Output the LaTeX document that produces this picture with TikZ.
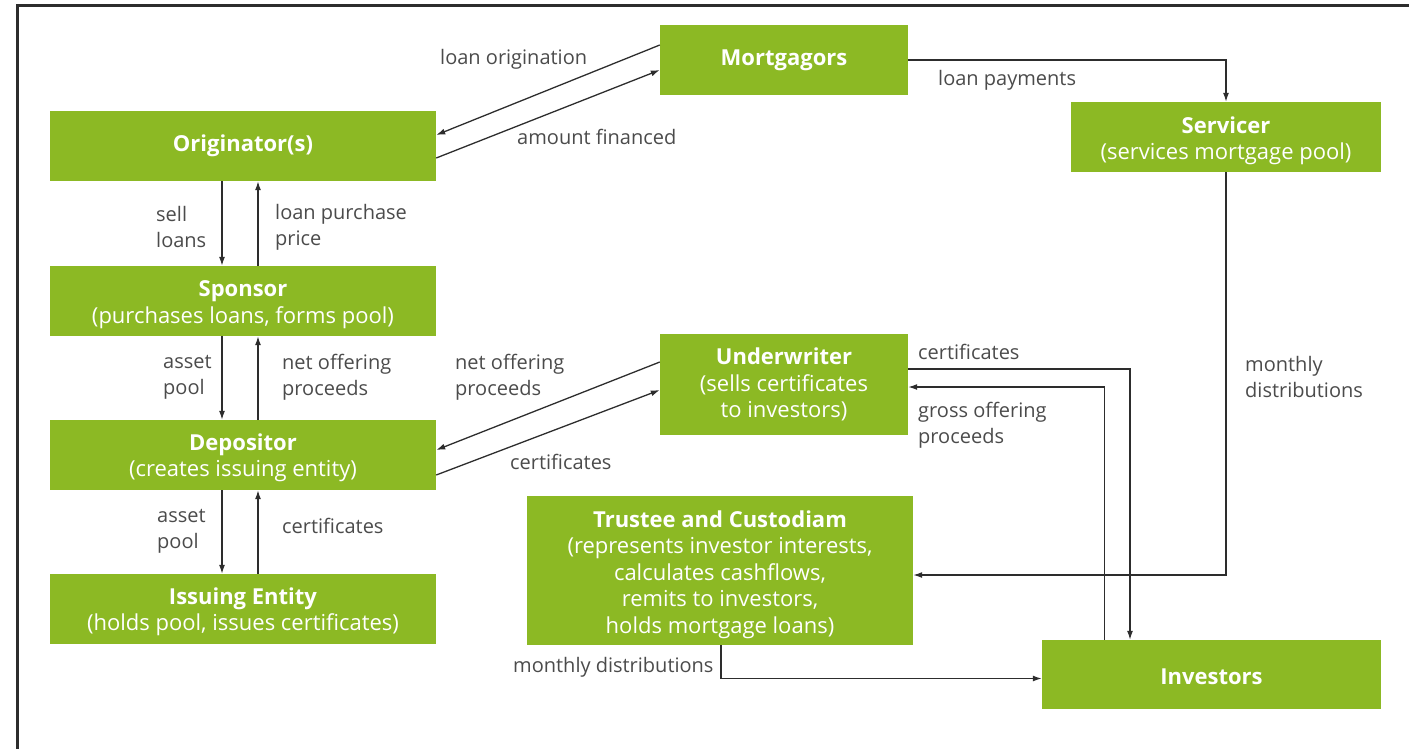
\documentclass[tikz,border=0pt]{standalone}
\usepackage{fontspec}
\setmainfont{Open Sans}
\usetikzlibrary{arrows.meta}
\usetikzlibrary{positioning}
\definecolor{boxgreen}{RGB}{140,185,36}
\definecolor{linegray}{RGB}{45,45,45}
\definecolor{textgray}{RGB}{75,75,75}
\tikzstyle{box}=[rectangle,fill=boxgreen,inner sep=0pt]
\tikzstyle{boxtext}=[text=white,align=center,inner sep=0pt,font=\fontsize{22}{26.5}\selectfont]
\tikzstyle{lbl}=[text=textgray,align=left,inner sep=0pt,anchor=west,font=\fontsize{20}{26}\selectfont]
\tikzstyle{edge} = [draw,line width=1.3pt,color=linegray,-{Latex[length=9pt,width=6pt]}]

\begin{document}
\begin{tikzpicture}[x=1pt,y={(0,-1pt)}]

  \useasboundingbox (0,0) rectangle (1409,748);
  \draw[line width=3pt, color=linegray] (17,760) -- (17,5) -- (1420,5);

   \foreach \x/\y/\w/\h/\dy/\name/\txt in {784/60/248/70/0/mort/{\textbf{Mortgagors}},
        1226/137/310/70/-4/serv/{\textbf{Servicer}\\(services mortgage pool)},
        243/146/386/70/0/orig/{\textbf{Originator(s)}},
        243/301/386/70/-3.5/spon/{\textbf{Sponsor}\\(purchases loans, forms pool)},
        243/455/386/70/-3/depo/{\textbf{Depositor}\\(creates issuing entity)},
        243/609/386/70/-3/issu/{\textbf{Issuing Entity}\\(holds pool, issues certificates)},
        784/384.5/248/101/0/undw/{\textbf{Underwriter}\\(sells certificates\\to investors)},
        720/570.5/386/149/-4/trus/{\textbf{Trustee and Custodiam}\\(represents investor interests,\\calculates cashflows,\\remits to investors,\\holds mortgage loans)},
        1211.5/674.5/339/69/-2/inv/{\textbf{Investors}}}
          \node[box, minimum width=\w pt, minimum height=\h pt,
                label={[boxtext,yshift=\dy pt]center:\txt}] (\name) at (\x,\y) {};

   \foreach \x/\y/\name/\txt in {440/59/lorig/{loan origination},
        517/137/amtfin/{amount financed},
        938/80/lpay/{loan payments},
        156/227/sell/{sell\\loans},
        275/227/lpp/{loan purchase\\price},
        163/377/apool1/{asset\\pool},
        282/377/netp1/{net offering\\proceeds},
        455/377/netp2/{net offering\\proceeds},
        510/462/cert1/{certificates},
        157/531/apool2/{asset\\pool},
        282/526/cert2/{certificates},
        918/352/cert3/{certificates},
        918/425/gross/{gross offering\\proceeds},
        1245/377/mdist1/{monthly\\distributions},
        513/667/mdist2/{monthly distributions}}
          \node[lbl] (\name) at (\x,\y) {\txt};

  % stacked boxes on the left
  \foreach \src/\dst in {orig/spon, spon/depo, depo/issu}
  {
         \draw[edge] ([xshift=-21pt]\src.south) -- ([xshift=-21pt]\dst.north);
         \draw[edge] ([xshift=15pt]\dst.north) -- ([xshift=15pt]\src.south);
  }

  % slanted pairs
  \draw[edge] ([yshift=15pt]mort.west) -- ([yshift=11pt]orig.east);
  \draw[edge] ([yshift=-12pt]orig.east) -- ([yshift=-10pt]mort.west);
  \draw[edge] ([yshift=22.5pt]undw.west) -- ([yshift=5pt]depo.east);
  \draw[edge] ([yshift=-20pt]depo.east) -- ([yshift=-5.5pt]undw.west);

  % elbows
  \draw[edge] (mort.east) -| (serv.north);
  \draw[edge] (serv.south) |- ([yshift=-4.5pt]trus.east);
  \draw[edge] ([yshift=15.5pt]undw.east) -| ([xshift=-81.5pt]inv.north);
  \draw[edge] ([xshift=-107pt]inv.north) |- ([yshift=-2.5pt]undw.east);
  \draw[edge] ([xshift=1pt]trus.south) |- ([yshift=-4pt]inv.west);

\end{tikzpicture}
\end{document}
